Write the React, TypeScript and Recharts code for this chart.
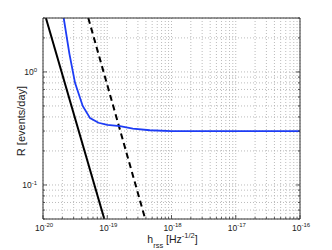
import { LineChart, Line, XAxis, YAxis, CartesianGrid } from 'recharts';

// black solid curve
const solidH = [1.11e-20, 9.0e-20];
const solidR = [3, 0.05];

// black dashed curve
const dashH = [5.07e-20, 3.9e-19];
const dashR = [3, 0.05];

// blue curve
const blueH = [2.1e-20, 2.57e-20, 3.15e-20, 4.15e-20, 5.4e-20, 7.3e-20, 1.0e-19, 1.58e-19, 2.5e-19, 4.6e-19, 1e-18, 1e-17, 1e-16];
const blueR = [3, 1.46, 0.8, 0.5, 0.39, 0.355, 0.34, 0.331, 0.315, 0.305, 0.3, 0.3, 0.3];

const xMajor = [1e-20, 1e-19, 1e-18, 1e-17, 1e-16];
const xExp = ['-20', '-19', '-18', '-17', '-16'];
const yMajor = [0.1, 1];
const yExp = ['-1', '0'];
const minorMult = [2, 3, 4, 5, 6, 7, 8, 9];

const xTicks = [
  ...xMajor,
  ...xMajor.slice(0, -1).flatMap((d) => minorMult.map((m) => m * d)),
].sort((a, b) => a - b);
const yTicks = [0.05, 0.06, 0.07, 0.08, 0.09, 0.1, 0.2, 0.3, 0.4, 0.5, 0.6, 0.7, 0.8, 0.9, 1, 2, 3];

const solidData = solidH.map((h, i) => ({ h, r: solidR[i] }));
const dashData = dashH.map((h, i) => ({ h, r: dashR[i] }));
const blueData = blueH.map((h, i) => ({ h, r: blueR[i] }));

const font = '"Liberation Sans", Arial, sans-serif';
const axisColor = '#333';

const majorIndex = (list: number[], v: number) => list.findIndex((m) => Math.abs(v / m - 1) < 1e-6);

const XTick = ({ x, y, payload, top }: any) => {
  const i = majorIndex(xMajor, payload.value);
  const len = i >= 0 ? 4 : 2;
  const dir = top ? 1 : -1;
  return (
    <g>
      <line x1={x} x2={x} y1={y} y2={y + dir * len} stroke={axisColor} strokeWidth={0.8} />
      {!top && i >= 0 && (
        <text x={x + 1} y={y + 12} textAnchor="middle" fontSize={8.5} fill="#222" fontFamily={font}>
          <tspan>10</tspan>
          <tspan dy={-4} fontSize={6}>{xExp[i]}</tspan>
        </text>
      )}
    </g>
  );
};

const YTick = ({ x, y, payload, right }: any) => {
  const i = majorIndex(yMajor, payload.value);
  const len = i >= 0 ? 4 : 2;
  const dir = right ? -1 : 1;
  return (
    <g>
      <line x1={x} x2={x + dir * len} y1={y} y2={y} stroke={axisColor} strokeWidth={0.8} />
      {!right && i >= 0 && (
        <text x={x - 6} y={y + 3.5} textAnchor="end" fontSize={8.5} fill="#222" fontFamily={font}>
          <tspan>10</tspan>
          <tspan dy={-3.5} fontSize={6}>{yExp[i]}</tspan>
        </text>
      )}
    </g>
  );
};

const XTitle = ({ viewBox }: any) => {
  const cx = viewBox.x + viewBox.width / 2 + 1;
  const y = viewBox.y + 24;
  return (
    <text x={cx} y={y} textAnchor="middle" fontSize={10.5} fill="#222" fontFamily={font}>
      <tspan>h</tspan>
      <tspan dy={4.5} fontSize={7.5}>rss</tspan>
      <tspan dy={-4.5}> [Hz</tspan>
      <tspan dy={-5} fontSize={7.5}>-1/2</tspan>
      <tspan dy={5}>]</tspan>
    </text>
  );
};

const YTitle = () => (
  <text
    x={25}
    y={121}
    transform="rotate(-90, 25, 121)"
    textAnchor="middle"
    fontSize={11}
    fill="#222"
    fontFamily={font}
  >
    R [events/day]
  </text>
);

export default function App() {
  return (
    <div>
      <style>{'body{margin:0;background:#fff}'}</style>
      <LineChart width={332} height={250} margin={{ top: 0, right: 0, bottom: 0, left: 0 }}>
        <CartesianGrid stroke="#aaa" strokeDasharray="1 2" strokeWidth={0.8} />
        <XAxis
          dataKey="h"
          type="number"
          scale="log"
          domain={[1e-20, 1e-16]}
          allowDataOverflow
          ticks={xTicks}
          interval={0}
          height={31}
          tickSize={0}
          tickMargin={0}
          tickLine={false}
          stroke={axisColor}
          tick={<XTick />}
          label={<XTitle />}
        />
        <XAxis
          xAxisId="top"
          orientation="top"
          type="number"
          scale="log"
          domain={[1e-20, 1e-16]}
          allowDataOverflow
          ticks={xTicks}
          interval={0}
          height={18}
          tickSize={0}
          tickMargin={0}
          tickLine={false}
          stroke={axisColor}
          tick={<XTick top />}
        />
        <YAxis
          type="number"
          scale="log"
          domain={[0.05, 3]}
          allowDataOverflow
          ticks={yTicks}
          interval={0}
          width={43}
          tickSize={0}
          tickMargin={0}
          tickLine={false}
          stroke={axisColor}
          tick={<YTick />}
          label={<YTitle />}
        />
        <YAxis
          yAxisId="right"
          orientation="right"
          type="number"
          scale="log"
          domain={[0.05, 3]}
          allowDataOverflow
          ticks={yTicks}
          interval={0}
          width={32}
          tickSize={0}
          tickMargin={0}
          tickLine={false}
          stroke={axisColor}
          tick={<YTick right />}
        />
        <Line data={solidData} dataKey="r" stroke="#000" strokeWidth={2} dot={false} isAnimationActive={false} />
        <Line
          data={dashData}
          dataKey="r"
          stroke="#000"
          strokeWidth={2}
          strokeDasharray="6 4"
          dot={false}
          isAnimationActive={false}
        />
        <Line data={blueData} dataKey="r" stroke="#1d3cf5" strokeWidth={1.8} dot={false} isAnimationActive={false} />
      </LineChart>
    </div>
  );
}
